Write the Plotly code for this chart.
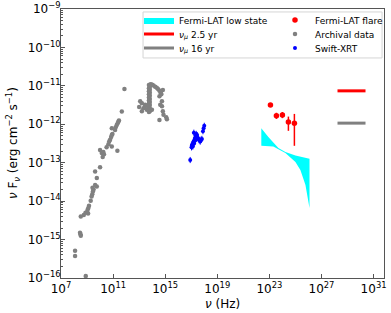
import numpy as np
import plotly.graph_objects as go

# ---------------- data (log10 values) ----------------
# Archival data: log10(nu/Hz), log10(nuFnu / erg cm^-2 s^-1)
arch_lognu = [8.90, 8.08, 8.08, 8.46, 8.50, 8.52, 8.52, 8.75, 8.88, 9.00, 9.05, 9.10,
              9.08, 9.15, 9.28, 9.35, 9.40, 9.45, 9.50, 9.42, 9.62, 9.75, 9.62, 9.75,
              10.00, 10.00, 10.13, 10.20, 10.25, 10.30, 10.50, 10.64, 10.70, 10.77,
              10.85, 10.90, 10.95, 10.90, 10.90, 11.15, 11.20, 11.28, 11.35, 11.41,
              11.45, 11.33, 11.67, 11.87,
              13.08, 13.21, 13.33, 13.46, 13.21, 13.59, 13.46, 13.00, 13.98,
              13.75, 13.75, 13.75, 13.75, 13.75, 13.75, 13.75, 13.75, 13.75, 13.75,
              13.82, 13.82, 13.82, 13.82, 13.82, 13.82, 13.82, 13.82, 13.82, 13.82,
              13.90, 14.00, 14.10, 14.23, 14.35, 14.45, 14.55, 14.62,
              14.67, 14.56, 14.75, 14.62, 14.75, 14.82, 14.87, 14.70, 14.56, 15.13,
              15.08, 14.82]
arch_logf = [-15.95, -15.29, -15.43, -14.82, -14.86, -14.90, -14.40, -14.36, -14.30,
             -14.28, -14.22, -14.18, -14.32, -14.12, -13.99, -13.88, -13.82, -13.75,
             -13.70, -13.65, -13.58, -13.62, -13.23, -13.40, -13.12, -12.67, -12.75,
             -12.85, -12.72, -12.78, -12.60, -12.52, -12.45, -12.40, -12.33, -12.28,
             -12.25, -12.10, -12.58, -12.15, -12.08, -12.02, -11.97, -11.93, -11.90,
             -12.69, -11.67, -11.08,
             -11.40, -11.45, -11.58, -11.53, -11.66, -11.62, -11.49, -11.55, -11.62,
             -10.98, -11.06, -11.14, -11.22, -11.30, -11.38, -11.46, -11.54, -11.62, -11.68,
             -10.97, -11.03, -11.10, -11.18, -11.26, -11.34, -11.42, -11.50, -11.58, -11.66,
             -10.96, -10.97, -10.99, -11.02, -11.05, -11.08, -11.12, -11.15,
             -11.19, -11.27, -11.40, -11.49, -11.53, -11.66, -11.75, -11.22, -11.89, -11.87,
             -11.82, -11.11]
arch_err = 0.04

# Swift-XRT
xrt_lognu = [16.92, 17.02, 17.05, 17.08, 17.12, 17.15, 17.18, 17.22, 17.25, 17.28,
             17.31, 17.35, 17.38, 17.42, 17.45, 17.50, 17.56, 17.62, 17.69, 17.75,
             17.82, 17.90, 17.95, 18.00, 17.20]
xrt_logf = [-12.93, -12.60, -12.55, -12.52, -12.58, -12.48, -12.45, -12.50, -12.40, -12.36,
            -12.42, -12.30, -12.25, -12.33, -12.28, -12.35, -12.38, -12.42, -12.45, -12.40,
            -12.38, -12.18, -12.10, -12.04, -12.22]
xrt_err = 0.08

# Fermi-LAT flare
flare_lognu = [23.08, 23.54, 24.00, 24.46, 24.92]
flare_logf = [-11.50, -11.78, -11.76, -11.94, -11.97]
flare_logup = [-11.45, -11.70, -11.68, -11.80, -11.73]
flare_loglo = [-11.55, -11.86, -11.84, -12.17, -12.56]

# Fermi-LAT low state butterfly
bow_lognu_up = [22.38, 22.92, 23.69, 24.23, 25.00, 26.08]
bow_logf_up = [-12.10, -12.33, -12.62, -12.72, -12.81, -12.90]
bow_lognu_lo = [22.38, 23.30, 24.23, 25.00, 25.38, 25.77, 26.08]
bow_logf_lo = [-12.56, -12.58, -12.75, -12.98, -13.19, -13.58, -14.18]

# Neutrino limits
nu_lognu = [28.23, 30.38]
nu25_logf = -11.13
nu16_logf = -11.97

# axis ticks
xtick_exp = [7, 11, 15, 19, 23, 27, 31]
ytick_exp = [-16, -15, -14, -13, -12, -11, -10, -9]

p = lambda a: np.power(10.0, np.asarray(a, dtype=float))

fig = go.Figure()

# butterfly polygon
bx = list(p(bow_lognu_up)) + list(p(bow_lognu_lo))[::-1]
by = list(p(bow_logf_up)) + list(p(bow_logf_lo))[::-1]
fig.add_trace(go.Scatter(x=bx, y=by, mode="lines", fill="toself", fillcolor="#00ffff",
                         line=dict(width=0, color="#00ffff"), name="Fermi-LAT low state",
                         legend="legend"))

fig.add_trace(go.Scatter(x=p(nu_lognu), y=p([nu25_logf, nu25_logf]), mode="lines",
                         name="<i>ν<sub>μ</sub></i> 2.5 yr", line=dict(color="red", width=3),
                         legend="legend2"))

fig.add_trace(go.Scatter(x=p(nu_lognu), y=p([nu16_logf, nu16_logf]), mode="lines",
                         name="<i>ν<sub>μ</sub></i> 16 yr", line=dict(color="#808080", width=3),
                         legend="legend3"))

fl = p(flare_logf)
fig.add_trace(go.Scatter(x=p(flare_lognu), y=fl, mode="markers", name="Fermi-LAT flare",
                         marker=dict(color="red", size=5.5), legend="legend4",
                         error_y=dict(type="data", symmetric=False,
                                      array=p(flare_logup) - fl, arrayminus=fl - p(flare_loglo),
                                      color="red", thickness=1.5, width=0)))

af = p(arch_logf)
fig.add_trace(go.Scatter(x=p(arch_lognu), y=af, mode="markers", name="Archival data",
                         marker=dict(color="#808080", size=4.5), legend="legend5",
                         error_y=dict(type="data", symmetric=False,
                                      array=af * (10**arch_err - 1), arrayminus=af * (1 - 10**-arch_err),
                                      color="#808080", thickness=1, width=0)))

xf = p(xrt_logf)
fig.add_trace(go.Scatter(x=p(xrt_lognu), y=xf, mode="markers", name="Swift-XRT",
                         marker=dict(color="blue", size=4), legend="legend6",
                         error_y=dict(type="data", symmetric=False,
                                      array=xf * (10**xrt_err - 1), arrayminus=xf * (1 - 10**-xrt_err),
                                      color="blue", thickness=1, width=0)))

yminor = [m * 10.0**e for e in range(-16, -9) for m in range(2, 10)]

leg_common = dict(bgcolor="rgba(0,0,0,0)", borderwidth=0, font=dict(size=9),
                  itemwidth=30, tracegroupgap=0, xanchor="left", yanchor="middle",
                  orientation="v")
col_x = [0.2415, 0.6625]
row_y = [0.959, 0.907, 0.855]

fig.update_layout(
    width=391, height=313,
    margin=dict(l=61, r=7, t=9, b=35, autoexpand=False),
    paper_bgcolor="white", plot_bgcolor="white",
    font=dict(family="DejaVu Sans", size=11, color="black"),
    showlegend=True,
    legend=dict(x=col_x[0], y=row_y[0], **leg_common),
    legend2=dict(x=col_x[0], y=row_y[1], **leg_common),
    legend3=dict(x=col_x[0], y=row_y[2], **leg_common),
    legend4=dict(x=col_x[1], y=row_y[0], **leg_common),
    legend5=dict(x=col_x[1], y=row_y[1], **leg_common),
    legend6=dict(x=col_x[1], y=row_y[2], **leg_common),
    shapes=[dict(type="rect", xref="paper", yref="paper", x0=0.254, x1=0.994,
                 y0=0.818, y1=0.989, line=dict(color="#d5d5d5", width=1),
                 fillcolor="white", layer="above")],
    xaxis=dict(type="log", range=[7, 31.8], showgrid=False, zeroline=False,
               tickvals=list(p(xtick_exp)),
               ticktext=[f"10<sup>{e}</sup>" for e in xtick_exp],
               ticks="inside", ticklen=4, tickcolor="#555",
               showline=True, linecolor="#555", linewidth=1, mirror=True,
               tickfont=dict(size=12)),
    yaxis=dict(type="log", range=[-16, -9], showgrid=False, zeroline=False,
               tickvals=list(p(ytick_exp)),
               ticktext=[f"10<sup>−{abs(e)}</sup>" for e in ytick_exp],
               ticks="inside", ticklen=4, tickcolor="#555", ticklabelstandoff=-3,
               minor=dict(tickvals=yminor, ticks="inside", ticklen=2, tickcolor="#555"),
               showline=True, linecolor="#555", linewidth=1, mirror=True,
               tickfont=dict(size=12)),
    annotations=[
        dict(text="<i>ν</i> (Hz)", xref="paper", yref="paper", x=0.5, y=-0.095,
             xanchor="center", yanchor="middle", showarrow=False, font=dict(size=12)),
        dict(text="<i>ν</i> F<sub><i>ν</i></sub> (erg cm<sup>−2</sup> s<sup>−1</sup>)",
             xref="paper", yref="paper", x=-0.15, y=0.5, textangle=-90,
             xanchor="center", yanchor="middle", showarrow=False, font=dict(size=12)),
    ],
)

fig.write_html("out.html", config={"displayModeBar": False},
               post_script="document.body.style.margin='0';")
